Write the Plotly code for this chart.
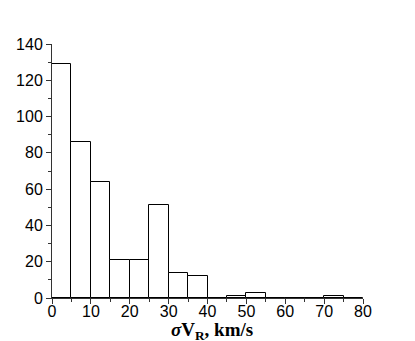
import plotly.graph_objects as go

bin_left = [0, 5, 10, 15, 20, 25, 30, 35, 40, 45, 50, 55, 60, 65, 70, 75]
counts = [129, 86, 64, 21, 21, 51, 14, 12, 0, 1, 3, 0, 0, 0, 1, 0]
bin_width = 5
x_ticks = [0, 10, 20, 30, 40, 50, 60, 70, 80]
y_ticks = [0, 20, 40, 60, 80, 100, 120, 140]

centers = [b + bin_width / 2 for b in bin_left]

fig = go.Figure(go.Bar(
    x=centers, y=counts, width=bin_width,
    marker=dict(color="white", line=dict(color="black", width=1)),
))

axis_common = dict(
    showgrid=False, zeroline=False, showline=True, linecolor="#333", linewidth=1,
    ticks="outside", ticklen=5, tickwidth=1, tickcolor="#333", automargin=False,
    tickfont=dict(family="Liberation Sans, Arial, sans-serif", size=16, color="black"),
)

fig.update_xaxes(range=[0, 80], tickvals=x_ticks, ticklabelstandoff=-6,
                 minor=dict(dtick=5, ticks="outside", ticklen=3, tickcolor="#333"),
                 **axis_common)
fig.update_yaxes(range=[0, 140], tickvals=y_ticks,
                 minor=dict(dtick=10, ticks="outside", ticklen=3, tickcolor="#333"),
                 **axis_common)

fig.add_annotation(
    text="<b><i>σ</i>V<sub>R</sub>, km/s</b>",
    xref="paper", yref="paper", x=0.514, y=-0.128, yanchor="middle", xanchor="center",
    showarrow=False,
    font=dict(family="Liberation Serif, Times New Roman, serif", size=19, color="black"),
)

fig.update_layout(
    width=407, height=333,
    margin=dict(l=44, r=52, t=36, b=43),
    plot_bgcolor="white", paper_bgcolor="white",
    showlegend=False, bargap=0,
)

fig.write_html("out.html")
